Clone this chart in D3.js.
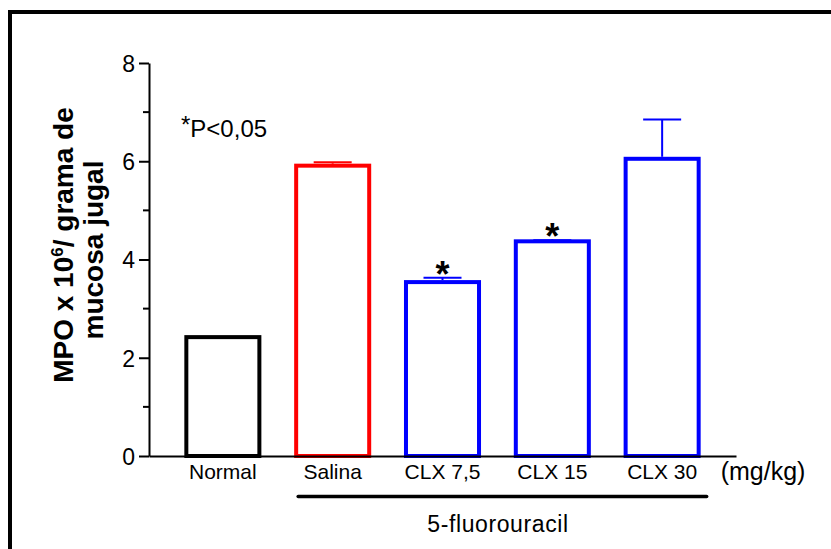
<!DOCTYPE html>
<html>
<head>
<meta charset="utf-8">
<script src="https://cdn.jsdelivr.net/npm/d3@7"></script>
<style>
  html, body { margin: 0; padding: 0; background: #fff; }
  svg { display: block; font-family: "Liberation Sans", Arial, sans-serif; }
</style>
</head>
<body>
<svg id="chart" width="831" height="549"></svg>
<script>
// Group names, means, standard errors and bar colours
const categories = ["Normal", "Salina", "CLX 7,5", "CLX 15", "CLX 30"];
const means = [2.42, 5.91, 3.54, 4.37, 6.05];
const sems = [0, 0.07, 0.09, 0.02, 0.80];
const barColors = ["#000000", "#ff0000", "#0000ff", "#0000ff", "#0000ff"];
const significant = [false, false, true, true, false];
const yMajorTicks = [0, 2, 4, 6, 8];
const yMinorTicks = [1, 3, 5, 7];
const treatedGroups = ["Salina", "CLX 7,5", "CLX 15", "CLX 30"];

const rows = categories.map((c, i) => ({
  name: c, mean: means[i], sem: sems[i], color: barColors[i], sig: significant[i]
}));

const svg = d3.select("#chart");

// Outer frame
svg.append("rect")
  .attr("x", 10).attr("y", 12)
  .attr("width", 900).attr("height", 600)
  .attr("fill", "none").attr("stroke", "#000").attr("stroke-width", 4);

const x = d3.scaleBand().domain(categories).range([149, 736])
  .paddingInner(0.335).paddingOuter(0.34);
const y = d3.scaleLinear().domain([0, 8]).range([456, 63]);

// Bars
svg.append("g").selectAll("rect").data(rows).join("rect")
  .attr("x", d => x(d.name))
  .attr("y", d => y(d.mean))
  .attr("width", x.bandwidth())
  .attr("height", d => y(0) - y(d.mean))
  .attr("fill", "#fff")
  .attr("stroke", d => d.color)
  .attr("stroke-width", 4);

// Error bars (upper only)
const eb = svg.append("g").selectAll("g").data(rows.filter(d => d.sem > 0)).join("g")
  .attr("stroke", d => d.color).attr("stroke-width", 2);
eb.append("line")
  .attr("x1", d => x(d.name) + x.bandwidth() / 2)
  .attr("x2", d => x(d.name) + x.bandwidth() / 2)
  .attr("y1", d => y(d.mean) - 2)
  .attr("y2", d => y(d.mean + d.sem));
eb.append("line")
  .attr("x1", d => x(d.name) + x.bandwidth() / 2 - 19)
  .attr("x2", d => x(d.name) + x.bandwidth() / 2 + 19)
  .attr("y1", d => y(d.mean + d.sem))
  .attr("y2", d => y(d.mean + d.sem));

// Significance markers
svg.append("g").selectAll("text").data(rows.filter(d => d.sig)).join("text")
  .attr("x", d => x(d.name) + x.bandwidth() / 2)
  .attr("y", d => y(d.mean + d.sem) - 12 + 21)
  .attr("text-anchor", "middle")
  .attr("font-size", 36).attr("font-weight", "bold")
  .text("*");

// Y axis
const yAxis = svg.append("g").attr("transform", "translate(149,0)")
  .call(d3.axisLeft(y).tickValues(yMajorTicks).tickSize(10).tickSizeOuter(0).tickPadding(4)
    .tickFormat(d3.format("d")));
yAxis.select(".domain").attr("stroke-width", 2);
yAxis.selectAll(".tick line").attr("stroke-width", 2);
yAxis.selectAll(".tick text").attr("font-size", 23).attr("font-family", null).attr("dy", "0.36em");
yAxis.append("g").selectAll("line").data(yMinorTicks).join("line")
  .attr("x1", -6).attr("x2", 0)
  .attr("y1", d => y(d)).attr("y2", d => y(d))
  .attr("stroke", "#000").attr("stroke-width", 2);

// X axis
const xAxis = svg.append("g").attr("transform", "translate(0,456)")
  .call(d3.axisBottom(x).tickSize(0).tickSizeOuter(0).tickPadding(8));
xAxis.select(".domain").attr("stroke-width", 2);
xAxis.selectAll(".tick text").attr("font-size", 21).attr("font-family", null);

// Unit label
svg.append("text")
  .attr("x", 763).attr("y", 480)
  .attr("text-anchor", "middle").attr("font-size", 25)
  .text("(mg/kg)");

// Bracket line under treated groups
const gx0 = x(treatedGroups[0]);
const gx1 = x(treatedGroups[treatedGroups.length - 1]) + x.bandwidth();
svg.append("line")
  .attr("x1", gx0 + 2).attr("x2", gx1 + 8)
  .attr("y1", 496.5).attr("y2", 496.5)
  .attr("stroke", "#000").attr("stroke-width", 3.5).attr("stroke-linecap", "round");
svg.append("text")
  .attr("x", 498).attr("y", 531.5)
  .attr("text-anchor", "middle").attr("font-size", 23).attr("letter-spacing", 0.6)
  .text("5-fluorouracil");

// Significance note
const note = svg.append("text").attr("x", 181).attr("y", 136.5).attr("font-size", 24);
note.append("tspan").attr("dy", -4).text("*");
note.append("tspan").attr("dy", 4).text("P<0,05");

// Y axis title
const yTitle = svg.append("g").attr("font-weight", "bold").attr("font-size", 28);
const t1 = yTitle.append("text")
  .attr("transform", "translate(73,245) rotate(-90)")
  .attr("text-anchor", "middle");
t1.append("tspan").text("MPO x 10");
t1.append("tspan").attr("font-size", 17).attr("dy", -10).text("6");
t1.append("tspan").attr("dy", 10).text("/ grama de");
yTitle.append("text")
  .attr("transform", "translate(103,250) rotate(-90)")
  .attr("text-anchor", "middle")
  .text("mucosa jugal");
</script>
</body>
</html>
